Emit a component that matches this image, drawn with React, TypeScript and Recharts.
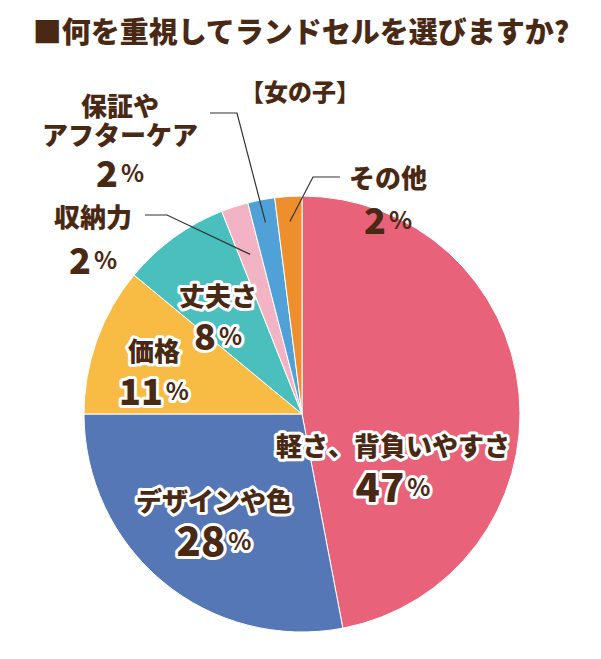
import React from "react";
import { PieChart, Pie, Cell } from "recharts";

const categories = ["軽さ、背負いやすさ", "デザインや色", "価格", "丈夫さ", "収納力", "保証や\nアフターケア", "その他"];
const values = [47, 28, 11, 8, 2, 2, 2];
const colors = ["#E8637A", "#5577B5", "#F8BC45", "#4ABFBE", "#F2B4C4", "#4FA1D8", "#EE8F2E"];

const TITLE = "■何を重視してランドセルを選びますか?";
const SUBTITLE = "【女の子】";

// label layout (positions of the texts, not of marks)
const LABEL_LAYOUT = [
  { x: 393, nameY: 444, valY: 485, outline: true },
  { x: 214, nameY: 499, valY: 539, outline: true },
  { x: 154, nameY: 349, valY: 389, outline: true },
  { x: 218, nameY: 294, valY: 334, outline: true },
  { x: 93, nameY: 215, valY: 258, outline: false, elbow: [[145, 215], [167, 215]], leaderR: 0.77 },
  { x: 120, nameY: 104, valY: 171, outline: false, elbow: [[210, 113], [237, 113]], leaderR: 0.895 },
  { x: 388, nameY: 176, valY: 218, outline: false, elbow: [[340, 177], [313, 177]], leaderR: 0.885 },
];

const data = categories.map((name, i) => ({ name, value: values[i] }));

const TEXT = "#4A2914";
const FONT = "'Noto Sans CJK JP', 'Noto Sans', sans-serif";
const RADIAN = Math.PI / 180;

const renderLabel = (props: any) => {
  const { cx, cy, midAngle, outerRadius, index } = props;
  const L = LABEL_LAYOUT[index];
  const outline = L.outline
    ? { stroke: "#fff", strokeWidth: 6, paintOrder: "stroke" as any, strokeLinejoin: "round" as any }
    : {};
  const lines = categories[index].split("\n");
  let leader = null;
  if (L.elbow) {
    const r = outerRadius * (L.leaderR as number);
    const ex = cx + r * Math.cos(-midAngle * RADIAN);
    const ey = cy + r * Math.sin(-midAngle * RADIAN);
    const pts = [...(L.elbow as number[][]), [ex, ey]].map((p) => p.join(",")).join(" ");
    leader = <polyline points={pts} fill="none" stroke="#333" strokeWidth={1.2} />;
  }
  return (
    <g key={`lbl-${index}`}>
      {leader}
      {lines.map((ln, j) => (
        <text
          key={j}
          x={L.x}
          y={L.nameY + j * 29}
          textAnchor="middle"
          dominantBaseline="central"
          fill={TEXT}
          fontSize={26}
          fontWeight={900}
          fontFamily={FONT}
          {...outline}
        >
          {ln}
        </text>
      ))}
      <text
        x={L.x}
        y={L.valY}
        textAnchor="middle"
        dominantBaseline="central"
        fill={TEXT}
        fontWeight={900}
        fontFamily={FONT}
        {...outline}
      >
        <tspan fontSize={index < 2 ? 40 : 36}>{values[index]}</tspan>
        <tspan fontSize={24} fontWeight={700} dx={3}>%</tspan>
      </text>
    </g>
  );
};

export default function App() {
  return (
    <div style={{ position: "absolute", left: 0, top: 0, width: 601, height: 659, background: "#fff" }}>
      <PieChart width={601} height={659} margin={{ top: 0, right: 0, bottom: 0, left: 0 }}>
        <text
          x={301}
          y={30}
          textAnchor="middle"
          dominantBaseline="central"
          fill={TEXT}
          fontSize={29}
          fontWeight={900}
          fontFamily={FONT}
        >
          {TITLE}
        </text>
        <text
          x={300}
          y={90}
          textAnchor="middle"
          dominantBaseline="central"
          fill={TEXT}
          fontSize={24}
          fontWeight={900}
          fontFamily={FONT}
        >
          {SUBTITLE}
        </text>
        <Pie
          data={data}
          dataKey="value"
          nameKey="name"
          cx={302}
          cy={414}
          outerRadius={218}
          startAngle={90}
          endAngle={-270}
          stroke="#fff"
          strokeWidth={1}
          label={renderLabel}
          labelLine={false}
          isAnimationActive={false}
        >
          {data.map((d, i) => (
            <Cell key={d.name} fill={colors[i]} />
          ))}
        </Pie>
      </PieChart>
    </div>
  );
}
